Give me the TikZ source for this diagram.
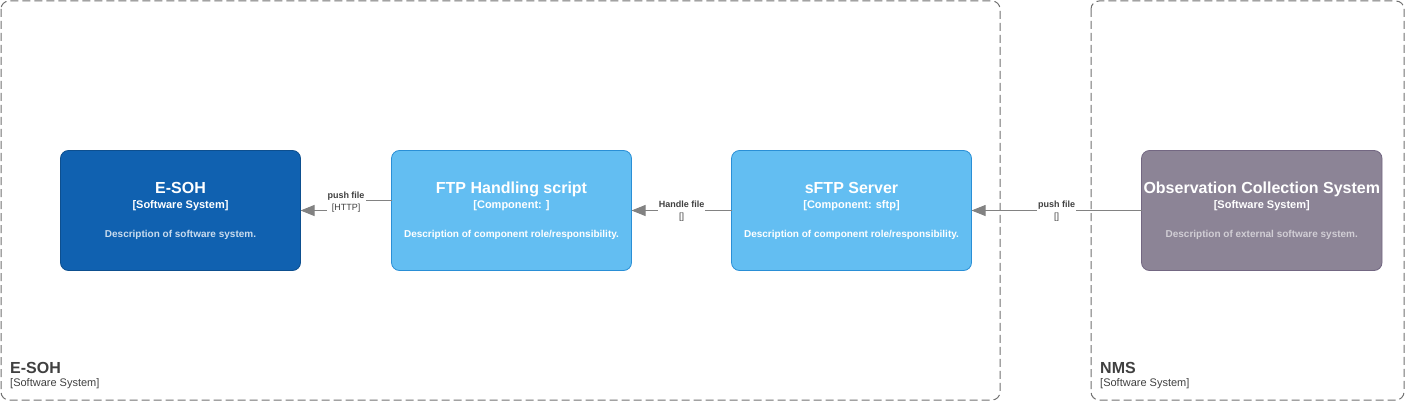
\documentclass[tikz,border=0pt]{standalone}
\usepackage{fontspec}
\setmainfont{Liberation Sans}
\usetikzlibrary{arrows.meta}
\usetikzlibrary{positioning}
\usetikzlibrary{calc}
\definecolor{sysblue}{HTML}{1061B0}
\definecolor{sysblueline}{HTML}{0D4F8F}
\definecolor{compblue}{HTML}{63BEF2}
\definecolor{compblueline}{HTML}{2A8FD6}
\definecolor{extgray}{HTML}{8C8496}
\definecolor{extgrayline}{HTML}{736782}
\definecolor{linegray}{HTML}{828282}
\definecolor{dashgray}{HTML}{707070}
\definecolor{labelgray}{HTML}{404040}
\tikzset {
  % path style for relations
  arr/.style = {
    draw = linegray,
    line width = 0.8pt,
    -{Triangle[length=14pt,width=11pt]}
  },
  rel/.style = {
    fill = white,
    inner sep = 1pt,
    align = center,
    text = labelgray,
    font = \fontsize{9}{12}\selectfont
  }
}
\tikzset {
  box/.style = {
    rounded corners = 8pt,
    minimum width = 240pt,
    minimum height = 120pt,
    inner xsep = 2pt,
    outer sep = 0pt,
    align = center,
    text = white,
    line width = 0.8pt
  },
  % software system
  sys/.style = {
    box,
    fill = sysblue,
    draw = sysblueline
  },
  % component
  comp/.style = {
    box,
    fill = compblue,
    draw = compblueline
  },
  % external system
  ext/.style = {
    box,
    fill = extgray,
    draw = extgrayline
  },
  % system boundary
  boundary/.style = {
    draw = dashgray,
    dash pattern = on 8pt off 4pt,
    rounded corners = 8pt,
    line width = 1pt
  },
  btitle/.style = {
    anchor = south west,
    align = left,
    inner sep = 0,
    text = labelgray
  }
}
\newcommand{\boxtext}[4]{%
  {\fontsize{16}{19}\selectfont\bfseries #1}\\[3pt]
  {\fontsize{11}{13}\selectfont\bfseries #2}\\[17pt]
  {\fontsize{10}{12}\selectfont\bfseries\color{#4} #3}}
\begin{document}
\begin{tikzpicture}[x=1pt,y=-1pt]
    \useasboundingbox (0,0) rectangle (1405,401);
    \draw[boundary] (1,1) rectangle (1000,400);
    \draw[boundary] (1091,1) rectangle (1404,400);
    \node[btitle] (esoh-title) at (10,389) {{\fontsize{16}{19}\selectfont\bfseries E-SOH}\\[1pt]{\fontsize{11}{13}\selectfont [Software System]}};
    \node[btitle] (nms-title) at (1100,389) {{\fontsize{16}{19}\selectfont\bfseries NMS}\\[1pt]{\fontsize{11}{13}\selectfont [Software System]}};

    \node[sys] (esoh) at (180.5,210.5) {\boxtext{E-SOH}{[Software System]}{Description of software system.}{white!78!sysblue}};
    \node[comp] (ftp) [right=91pt of esoh] {\boxtext{FTP Handling script}{[Component: ]}{Description of component role/responsibility.}{white}};
    \node[comp] (sftp) [right=100pt of ftp] {\boxtext{sFTP Server}{[Component: sftp]}{Description of component role/responsibility.}{white}};
    \node[ext] (ocs) [right=170pt of sftp] {\boxtext{Observation Collection System}{[Software System]}{Description of external software system.}{white!60!extgray}};

    \draw[arr] ([yshift=10pt]ftp.west)
    -| ($(esoh.east)!0.5!(ftp.west)$)
    |- (esoh.east);
    \node[rel] (push-http) at ($(esoh.east)!0.5!(ftp.west)+(0,-8)$) {\textbf{push file}\\{[HTTP]}};

    \draw[arr] (sftp) -- (ftp);
    \node[rel] (handle) at ($(ftp.east)!0.5!(sftp.west)+(0,1)$) {\textbf{Handle file}\\{[]}};

    \draw[arr] (ocs) -- (sftp);
    \node[rel] (push-sftp) at ($(sftp.east)!0.5!(ocs.west)+(0,1)$) {\textbf{push file}\\{[]}};
  \end{tikzpicture}
\end{document}
